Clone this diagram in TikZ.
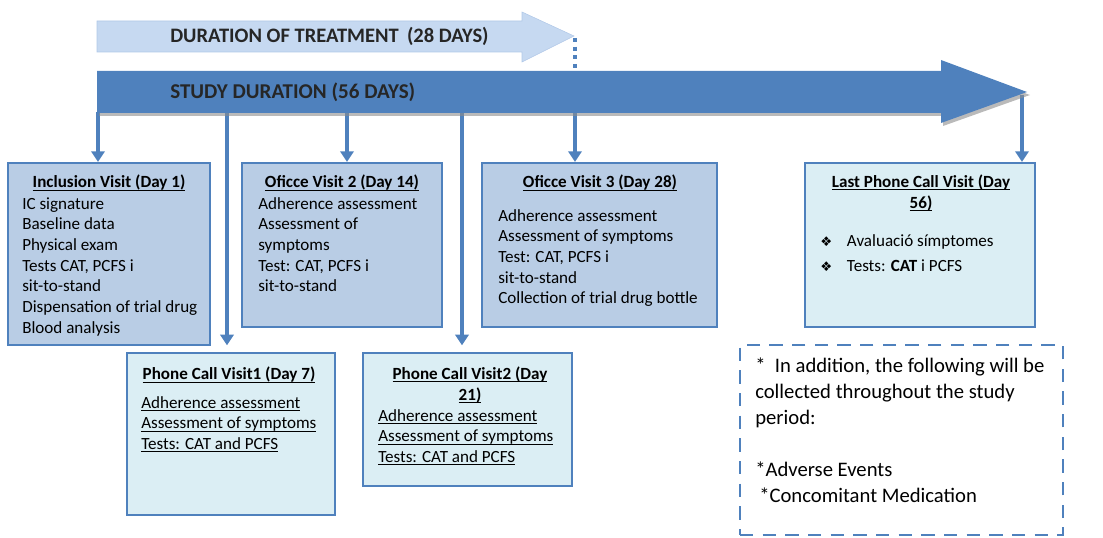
\documentclass[tikz,border=0pt]{standalone}
\usepackage{fontspec}
\setmainfont{Carlito}
\newfontfamily\symfont{DejaVu Sans}
\usetikzlibrary{positioning}
\usetikzlibrary{arrows.meta}
\usetikzlibrary{fit}
\definecolor{frameblue}{HTML}{4F81BD}
\definecolor{darkfill}{HTML}{B9CDE5}
\definecolor{lightfill}{HTML}{DBEEF4}
\definecolor{treatfill}{HTML}{C6D9F1}
\definecolor{treatedge}{HTML}{B0C8E8}
% underline at a fixed depth, as a word processor does
\newcommand{\ulined}[1]{\setbox0\hbox{#1}\rlap{\rule[-1.9pt]{\wd0}{0.6pt}}\box0}
\tikzset{
  x=0.75pt, y=-0.75pt,
  % visit boxes
  visit/.style={draw=frameblue, line width=1.6pt, inner sep=0pt},
  office/.style={visit, fill=darkfill},
  phone/.style={visit, fill=lightfill},
  % texts inside the boxes
  boxtitle/.style={font=\fontsize{12.8}{15.5}\selectfont\bfseries, inner sep=0pt, align=center},
  boxitems/.style={font=\fontsize{12.8}{15.5}\selectfont, inner sep=0pt, align=left, anchor=north west},
  % lines dropping from the study arrow
  drop/.style={frameblue, line width=2.6pt, -{Triangle[width=10pt,length=8pt]}},
  heading/.style={font=\fontsize{15.8}{18}\selectfont\bfseries, text=black!85, inner sep=0pt, anchor=west},
}

\begin{document}
\begin{tikzpicture}
  \useasboundingbox (0,0) rectangle (1103,538);

  % treatment arrow
  \draw[treatedge, fill=treatfill] (97,21) -- (522,21) -- (522,12) -- (574,36) -- (522,62) -- (522,52) -- (97,52) -- cycle;
  \node[heading, font=\fontsize{15.4}{18}\selectfont\bfseries] (treat) at (170,36) {DURATION OF TREATMENT\hspace{0.4em}(28 DAYS)};
  \coordinate (treattip) at (575,38);
  \coordinate (studytop) at (575,71);

  % drop points on the study arrow
  \coordinate (d1) at (98,112);
  \coordinate (d7) at (227,112);
  \coordinate (d14) at (347,112);
  \coordinate (d21) at (462,112);
  \coordinate (d28) at (575,112);
  \coordinate (d56) at (1022,95);

  % visit boxes
  \node[office, fit={(8,163) (210,345)}] (incl) {};
  \node[office, fit={(242,163) (442,327)}] (visit14) {};
  \node[office, fit={(482,163) (717,327)}] (visit28) {};
  \node[phone, fit={(805,163) (1035,327)}] (call56) {};
  \node[phone, fit={(127,353) (335,515)}] (call7) {};
  \node[phone, fit={(363,353) (572,486)}] (call21) {};
  \node[draw=frameblue, line width=1.6pt, dash pattern=on 10pt off 7pt, inner sep=0pt, fit={(740,345) (1063,535)}] (extra) {};

  \draw[drop] (d1) -- (d1 |- incl.north);
  \draw[drop, shorten >=5pt] (d7) -- (d7 |- call7.north);
  \draw[drop] (d14) -- (d14 |- visit14.north);
  \draw[drop, shorten >=5pt] (d21) -- (d21 |- call21.north);
  \draw[drop] (d28) -- (d28 |- visit28.north);
  \draw[drop] (d56) -- (d56 |- call56.north);
  \draw[frameblue, line width=3pt, dash pattern=on 3pt off 3.5pt] (treattip) -- (studytop);

  % study arrow with shadow
  \fill[black!45, opacity=0.6] (99,74) -- (943,74) -- (943,63) -- (1030,95) -- (943,126) -- (943,116) -- (99,116) -- cycle;
  \fill[frameblue] (97,71) -- (941,71) -- (941,60) -- (1027,92) -- (941,123) -- (941,113) -- (97,113) -- cycle;
  \node[heading] (study) at (170,92) {STUDY DURATION (56 DAYS)};

  % box texts
  \node[boxtitle] (incltitle) at (109,183) {\ulined{Inclusion Visit (Day 1)}};
  \node[boxitems] (incltext) at (22,197) {IC signature\\Baseline data\\Physical exam\\Tests CAT, PCFS i\\sit-to-stand\\Dispensation of trial drug\\Blood analysis};

  \node[boxtitle] (title14) at (342,183) {\ulined{Oficce Visit 2 (Day 14)}};
  \node[boxitems] (text14) at (258,197) {Adherence assessment\\Assessment of\\symptoms\\Test: CAT, PCFS i\\sit-to-stand};

  \node[boxtitle] (title28) at (600,183) {\ulined{Oficce Visit 3 (Day 28)}};
  \node[boxitems] (text28) at (498,209) {Adherence assessment\\Assessment of symptoms\\Test: CAT, PCFS i\\sit-to-stand\\Collection of trial drug bottle};

  \node[boxtitle] (title56) at (921,193) {\ulined{Last Phone Call Visit (Day}\\\ulined{56)}};
  \node[boxitems, font=\fontsize{12.8}{18.75}\selectfont] (text56) at (820,234) {\makebox[20pt][l]{\symfont\fontsize{10}{10}\selectfont ❖}Avaluació símptomes\\\makebox[20pt][l]{\symfont\fontsize{10}{10}\selectfont ❖}Tests: \textbf{CAT} i PCFS};

  \node[boxtitle] (title7) at (229,375) {\ulined{Phone Call Visit1 (Day 7)}};
  \node[boxitems] (text7) at (141,396) {\ulined{Adherence assessment}\\\ulined{Assessment of symptoms}\\\ulined{Tests: CAT and PCFS}};

  \node[boxtitle] (title21) at (470,385) {\ulined{Phone Call Visit2 (Day}\\\ulined{21)}};
  \node[boxitems] (text21) at (378,409) {\ulined{Adherence assessment}\\\ulined{Assessment of symptoms}\\\ulined{Tests: CAT and PCFS}};

  \node[boxitems, font=\fontsize{15.5}{19.5}\selectfont] (extratext) at (755,358) {*~~In addition, the following will be\\collected throughout the study\\period:\\[19.5pt]*Adverse Events\\\hspace{3pt}*Concomitant Medication};
\end{tikzpicture}
\end{document}
